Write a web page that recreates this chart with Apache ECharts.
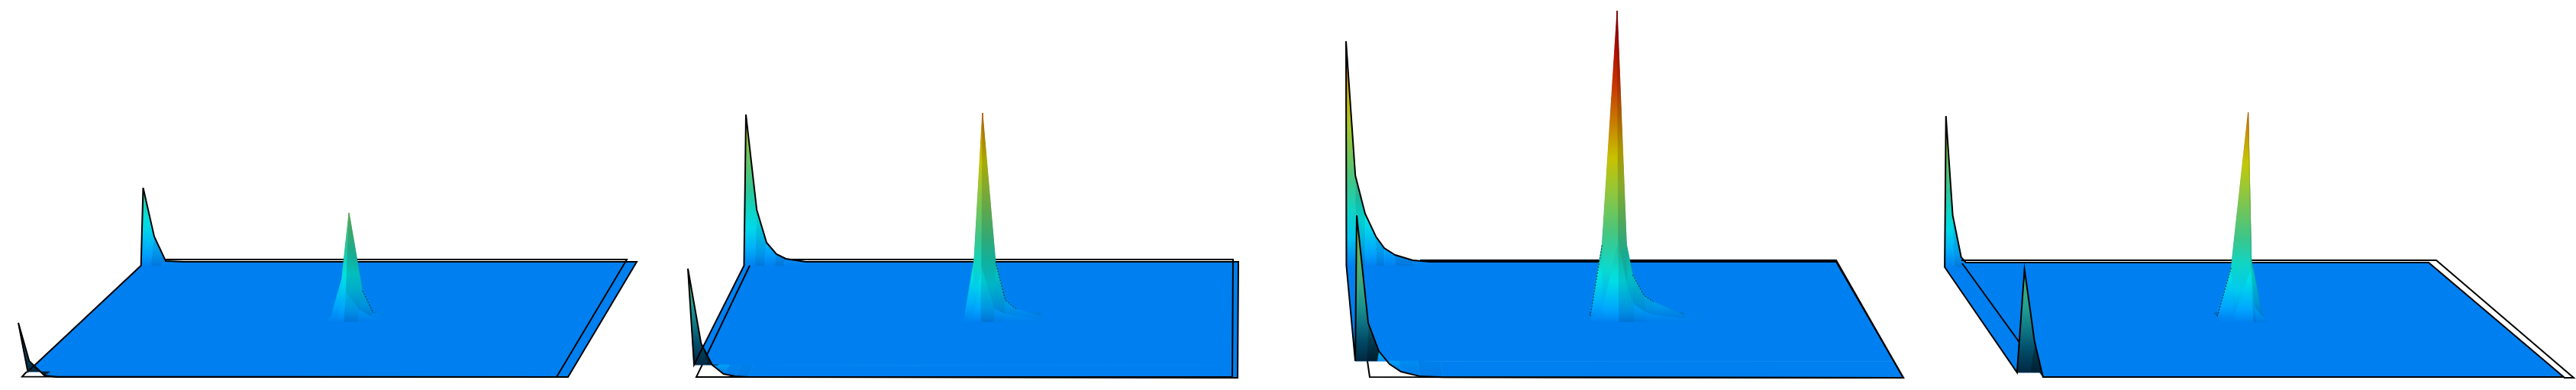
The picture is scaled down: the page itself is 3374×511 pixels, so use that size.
<!DOCTYPE html>
<html><head><meta charset="utf-8">
<style>html,body{margin:0;padding:0;background:#fff}#c{width:3374px;height:511px}</style>
<script src="https://cdn.jsdelivr.net/npm/echarts@6/dist/echarts.min.js"></script>
</head><body><div id="c"></div>
<script>
// ---- surface values (u, v on a 0..100 plane, z = height) ----
const peakRowV = [56, 53, 50, 48];

const farU1 = [0, 2, 4.2, 7.8, 100];
const farZ1 = [97, 33, 1, 0, 0];
const nearU1 = [0, 1.5, 4.1, 6.4, 100];
const nearZ1 = [71, 21, 2, 0, 0];
const peakU1 = [47.1, 49.2, 50.6, 53.2, 55.3, 57];
const peakA1 = [0, 48, 135, 33, 4, 0];
const peakB1 = [0, 10, 36, 12, 4, 0];

const farU2 = [0, 2.2, 4.2, 6.2, 8.1, 12.1, 100];
const farZ2 = [193, 68, 25, 10, 4, 0, 0];
const nearU2 = [0, 2.4, 4.4, 6.5, 8.6, 11, 100];
const nearZ2 = [142, 44, 16, 4, 1, 0, 0];
const peakU2 = [47.3, 49.2, 50.8, 53.3, 55.2, 57.4, 62];
const peakA2 = [0, 74, 266, 71, 21, 9, 0];
const peakB2 = [0, 8, 68, 14, 8, 5, 0];

const farU3 = [0, 1.9, 3.9, 6.1, 7.8, 10, 13.6, 17.1, 100];
const farZ3 = [289, 113, 63, 33, 18, 9, 2, 0, 0];
const nearU3 = [0, 2.1, 4.05, 6, 8.1, 11.6, 15.8, 100];
const nearZ3 = [212, 71, 34, 17, 7, 1, 0, 0];
const peakU3 = [46.3, 48.6, 51.5, 53.3, 54.5, 56.7, 58.5, 64.6, 68];
const peakA3 = [0, 94, 400, 94, 54, 27, 19, 1, 0];
const peakB3 = [0, 18, 102, 40, 20, 10, 6, 1, 0];

const farU4 = [0, 2, 4, 5, 100];
const farZ4 = [192, 62, 7, 0, 0];
const nearU4 = [0, 2.4, 4.2, 100];
const nearZ4 = [141, 46, 0, 0];
const peakU4 = [46.5, 49.2, 52.5, 53.1, 55.3];
const peakA4 = [0, 64, 267, 74, 0];
const peakB4 = [0, 6, 68, 16, 0];

// ---- colours ----
const baseColor = '#0080f0';
const rampFront = [[0,'#0080f0'],[15,'#00a4ff'],[55,'#00e4e4'],[85,'#1cc8a8'],[130,'#60c468'],[175,'#a0c830'],[205,'#c8c800'],[270,'#c86800'],[330,'#c81000'],[400,'#800000']];
const rampBack = [[0,'#002840'],[30,'#004a68'],[60,'#107888'],[90,'#20a090'],[135,'#50b070'],[200,'#90b840'],[280,'#c0a020']];

// ---- layout: surface corners, frame lines, panel extents ----
const panels = [
 {left:0,right:843,NL:[29,494],NR:[744,494],FL:[190,343],FR:[834,343],leanNear:-0.07,leanFar:-0.026,row1:4.6,far1:96.7,
  far:[farU1,farZ1],near:[nearU1,nearZ1],peak:[peakU1,peakA1,peakB1],edges:[[3,4]],
  frames:[[[35,487],[29,493.5],[729,494],[821,340],[217,340]]]},
 {left:843,right:1687,NL:[901,494],NR:[1621,495],FL:[977,343],FR:[1622,343],leanNear:0,leanFar:0,row1:10.6,far1:96.7,
  far:[farU2,farZ2],near:[nearU2,nearZ2],peak:[peakU2,peakA2,peakB2],edges:[[3,5]],
  frames:[[[982,348],[912,494],[1614,494],[1615,340],[1034,340]]]},
 {left:1687,right:2531,NL:[1777,494],NR:[2493,495],FL:[1763,343],FR:[2405,343],leanNear:0,leanFar:0,row1:13.9,far1:96.7,
  far:[farU3,farZ3],near:[nearU3,nearZ3],peak:[peakU3,peakA3,peakB3],edges:[[0,1],[4,6]],
  frames:[[[1791,473],[1794,494],[2493,495],[2405,341],[1860,341]]]},
 {left:2531,right:3374,NL:[2646,494],NR:[3358,494],FL:[2543,344],FR:[3181,344],leanNear:0.04,leanFar:0.03,row1:4,far1:96,
  far:[farU4,farZ4],near:[nearU4,nearZ4],peak:[peakU4,peakA4,peakB4],edges:[[0,1]],
  frames:[[[2569,341],[3191,341],[3371,495],[3358,495]],[[2570,345],[2646,450]]]}
];

// ---- helpers ----
function hex(c){return [1,3,5].map(i=>parseInt(c.substr(i,2),16));}
function rampAt(ramp,z,shade){
  let a=ramp[0],b=ramp[ramp.length-1];
  for(let i=0;i<ramp.length-1;i++){ if(z>=ramp[i][0]&&z<=ramp[i+1][0]){a=ramp[i];b=ramp[i+1];break;} }
  if(z>b[0]){a=b;}
  const t=b[0]===a[0]?0:(z-a[0])/(b[0]-a[0]);
  const ca=hex(a[1]),cb=hex(b[1]);
  const m=ca.map((x,i)=>Math.round((x+(cb[i]-x)*t)*shade));
  return 'rgb('+m.join(',')+')';
}
function fillFor(verts,ramp,shade){
  const zs=verts.map(v=>v[2]);
  const hi=Math.max.apply(null,zs),lo=Math.min.apply(null,zs);
  if(hi<=0) return baseColor;
  const stops=[];
  for(let i=0;i<=8;i++){const t=i/8;stops.push({offset:t,color:rampAt(ramp,hi+(lo-hi)*t,shade)});}
  return {type:'linear',x:0,y:0,x2:0,y2:1,colorStops:stops};
}
function buildOps(p){
  const ops=[];
  const q=(u1,u2,v1,v2,z11,z21,z12,z22)=>[[u1,v1,z11],[u2,v1,z21],[u2,v2,z22],[u1,v2,z12]];
  // floor
  ops.push({k:'facet',verts:q(0,100,p.row1,p.far1,0,0,0,0),ramp:rampFront,shade:1});
  // far ridge
  const [fu,fz]=p.far;
  for(let c=0;c<fu.length-1;c++){
    ops.push({k:'facet',verts:q(fu[c],fu[c+1],100,p.far1,fz[c],fz[c+1],0,0),ramp:rampFront,shade:c%2?0.92:1});
  }
  // near ridge, flat and low part first
  const [nu,nz]=p.near;
  for(let c=nu.length-2;c>=2;c--){
    ops.push({k:'facet',verts:q(nu[c],nu[c+1],p.row1,0,0,0,nz[c],nz[c+1]),ramp:rampFront,shade:0.97});
  }
  // frame
  p.frames.forEach(f=>ops.push({k:'frame',pts:f}));
  // near ridge, tall part seen from behind
  for(let c=1;c>=0;c--){
    ops.push({k:'facet',verts:q(nu[c],nu[c+1],p.row1,0,0,0,nz[c],nz[c+1]),ramp:rampBack,shade:c%2?0.7:1});
  }
  // outline
  const line=[];
  fu.forEach((u,i)=>line.push([u,100,fz[i]]));
  line.push([100,0,0]);
  for(let i=nu.length-1;i>=0;i--) line.push([nu[i],0,nz[i]]);
  line.push([0,p.row1,0],[0,p.far1,0],[fu[0],100,fz[0]]);
  ops.push({k:'line',pts:line,w:2,color:'#000'});
  // central peak
  const [pu,pa,pb]=p.peak;
  const zero=pu.map(()=>0);
  const rows=[zero,pa,pb,zero];
  const tip=pa.indexOf(Math.max.apply(null,pa));
  for(let r=0;r<3;r++){
    for(let c=0;c<pu.length-1;c++){
      const hi=Math.max(rows[r][c],rows[r][c+1],rows[r+1][c],rows[r+1][c+1]);
      const side=c>=tip?0.85:1;
      const back=r===0?0.72:1;
      const front=r===2?1.05:1;
      const raw=Math.min(1,side*back*front);
      const shade=1-(1-raw)*Math.min(1,hi/40);
      ops.push({k:'facet',verts:q(pu[c],pu[c+1],peakRowV[r],peakRowV[r+1],rows[r][c],rows[r][c+1],rows[r+1][c],rows[r+1][c+1]),ramp:rampFront,shade:shade});
    }
  }
  // thin partial edges of the peak
  p.edges.forEach(e=>{
    const pts=[];
    for(let c=e[0];c<=e[1];c++) pts.push([pu[c],peakRowV[1],pa[c]]);
    ops.push({k:'line',pts:pts,w:1,color:'#0a2a40',dash:[2,2]});
  });
  return ops;
}
function project(p,api,pt){
  const u=pt[0]/100,v=pt[1]/100,z=pt[2];
  const nx=p.NL[0]+(p.NR[0]-p.NL[0])*u, ny=p.NL[1]+(p.NR[1]-p.NL[1])*u;
  const fx=p.FL[0]+(p.FR[0]-p.FL[0])*u, fy=p.FL[1]+(p.FR[1]-p.FL[1])*u;
  let lean=0;
  if(pt[1]===0) lean=p.leanNear; else if(pt[1]===100) lean=p.leanFar;
  return api.coord([nx+(fx-nx)*v+lean*z, ny+(fy-ny)*v-z]);
}

const grids=[],xAxes=[],yAxes=[],series=[];
panels.forEach((p,i)=>{
  grids.push({left:p.left,top:0,width:p.right-p.left,height:511,containLabel:false});
  xAxes.push({type:'value',gridIndex:i,min:p.left,max:p.right,show:false});
  yAxes.push({type:'value',gridIndex:i,min:0,max:511,inverse:true,show:false});
  const ops=buildOps(p);
  series.push({
    type:'custom',coordinateSystem:'cartesian2d',xAxisIndex:i,yAxisIndex:i,clip:false,silent:true,animation:false,
    data:ops.map((o,k)=>[p.left,k]),encode:{x:0,y:1},
    renderItem:function(params,api){
      const o=ops[params.dataIndex];
      if(o.k==='facet'){
        const fill=fillFor(o.verts,o.ramp,o.shade);
        return {type:'polygon',shape:{points:o.verts.map(v=>project(p,api,v))},style:{fill:fill,stroke:fill,lineWidth:0.6}};
      }
      if(o.k==='frame'){
        return {type:'polyline',shape:{points:o.pts.map(v=>api.coord(v))},style:{fill:null,stroke:'#000',lineWidth:2,lineJoin:'miter'}};
      }
      return {type:'polyline',shape:{points:o.pts.map(v=>project(p,api,v))},style:{fill:null,stroke:o.color,lineWidth:o.w,lineDash:o.dash||null,lineJoin:'miter'}};
    }
  });
});
const chart=echarts.init(document.getElementById('c'),null,{renderer:'canvas'});
chart.setOption({animation:false,backgroundColor:'#fff',grid:grids,xAxis:xAxes,yAxis:yAxes,tooltip:{show:false},series:series});
</script></body></html>
